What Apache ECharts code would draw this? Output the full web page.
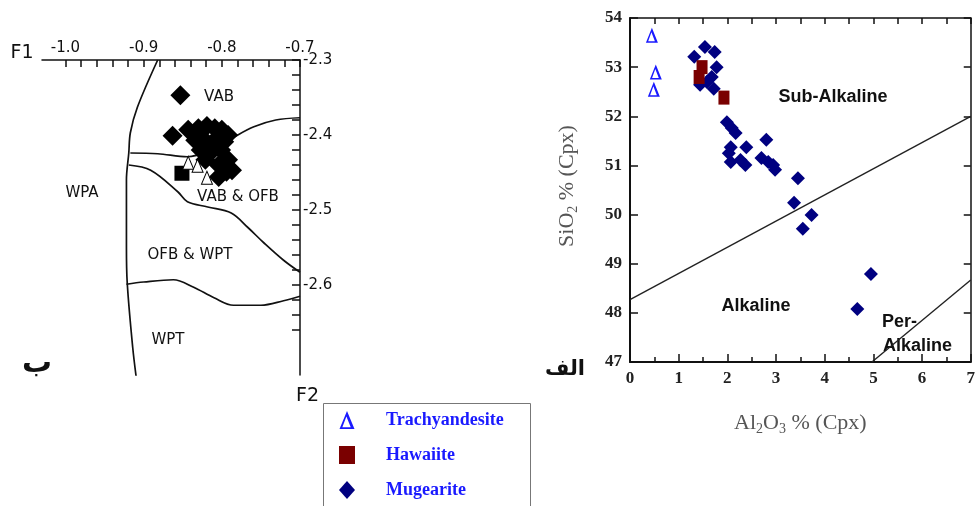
<!DOCTYPE html>
<html>
<head>
<meta charset="utf-8">
<script src="https://cdn.jsdelivr.net/npm/echarts@6/dist/echarts.min.js"></script>
<style>
  html, body { margin: 0; padding: 0; background: #fff; }
  #chart { width: 978px; height: 506px; }
</style>
</head>
<body>
<div id="chart"></div>
<script>
// ---------- left diagram : F1 / F2 discriminant ----------
const f1Labels = [-1.0, -0.9, -0.8, -0.7];
const f1Ticks = [-1.0, -0.98, -0.96, -0.94, -0.92, -0.9, -0.88, -0.86, -0.84, -0.82,
                 -0.8, -0.78, -0.76, -0.74, -0.72, -0.7];
const f2Labels = [-2.3, -2.4, -2.5, -2.6];
const f2Ticks = [-2.3, -2.32, -2.34, -2.36, -2.38, -2.4, -2.42, -2.44, -2.46, -2.48,
                 -2.5, -2.52, -2.54, -2.56, -2.58, -2.6, -2.62, -2.64, -2.66];

const leftDiamonds = [
  [-0.853, -2.347], [-0.863, -2.401], [-0.843, -2.393], [-0.830, -2.391], [-0.819, -2.388],
  [-0.809, -2.391], [-0.800, -2.393], [-0.792, -2.400], [-0.834, -2.407], [-0.822, -2.407],
  [-0.809, -2.407], [-0.797, -2.409], [-0.827, -2.420], [-0.814, -2.423], [-0.801, -2.420],
  [-0.792, -2.433], [-0.787, -2.447], [-0.804, -2.440], [-0.821, -2.433], [-0.804, -2.456],
  [-0.794, -2.449]
];
const leftSquares = [[-0.851, -2.451]];
const leftTriangles = [[-0.843, -2.437], [-0.831, -2.441], [-0.819, -2.457]];

// field boundaries
const edgeWPA = [[-0.882, -2.3], [-0.908, -2.363], [-0.917, -2.397], [-0.919, -2.424],
                 [-0.922, -2.46], [-0.922, -2.549], [-0.921, -2.597], [-0.914, -2.683], [-0.909, -2.727]];
const edgeVAB = [[-0.917, -2.424], [-0.882, -2.425], [-0.844, -2.429], [-0.814, -2.42],
                 [-0.785, -2.403], [-0.759, -2.389], [-0.731, -2.38], [-0.7, -2.377]];
const edgeOFB = [[-0.919, -2.44], [-0.891, -2.447], [-0.856, -2.476], [-0.844, -2.489],
                 [-0.818, -2.496], [-0.788, -2.504], [-0.767, -2.523], [-0.746, -2.544],
                 [-0.721, -2.567], [-0.7, -2.583]];
const edgeWPT = [[-0.922, -2.599], [-0.9, -2.596], [-0.862, -2.593], [-0.836, -2.603],
                 [-0.81, -2.617], [-0.785, -2.627], [-0.75, -2.627], [-0.721, -2.621], [-0.7, -2.615]];

// ---------- right diagram : Al2O3 vs SiO2 in Cpx ----------
const trachyandesite = [[0.45, 53.65], [0.53, 52.9], [0.49, 52.55]];
const hawaiite = [[1.48, 53.0], [1.42, 52.8], [1.93, 52.38]];
const mugearite = [
  [1.32, 53.21], [1.54, 53.41], [1.74, 53.31], [1.44, 52.64], [1.72, 52.56], [1.78, 53.0],
  [1.68, 52.8], [1.58, 52.7], [1.99, 51.88], [2.09, 51.76], [2.17, 51.66], [2.80, 51.52],
  [2.07, 51.37], [2.39, 51.37], [2.03, 51.25], [2.07, 51.07], [2.27, 51.11], [2.37, 51.01],
  [2.70, 51.15], [2.84, 51.07], [2.94, 51.01], [2.98, 50.91], [3.45, 50.74], [3.37, 50.24],
  [3.55, 49.71], [3.73, 49.99], [4.67, 48.08], [4.95, 48.79]
];
const alkalineLine = [[0, 48.27], [7, 52.0]];
const peralkalineLine = [[4.97, 47], [7, 48.67]];

const triPath = 'path://M5,0L10,12L0,12Z M4.6,3.6L1.9,10.8L7.5,10.8Z';
const sans = 'DejaVu Sans';
const serif = 'Liberation Serif';

const chart = echarts.init(document.getElementById('chart'));

function edge(data) {
  return {
    type: 'line', xAxisIndex: 0, yAxisIndex: 0, data: data, z: 1,
    smooth: 0.35, symbol: 'none', silent: true,
    lineStyle: { color: '#111', width: 1.7 }
  };
}

function txt(x, y, text, size, extra) {
  return {
    type: 'text', x: x, y: y, silent: true,
    style: Object.assign({
      text: text, fill: '#111', font: size + 'px "' + sans + '"',
      align: 'center', verticalAlign: 'middle'
    }, extra || {})
  };
}

const nameRich = {
  n: { fontFamily: serif, fontSize: 22, color: '#555', lineHeight: 26 },
  s: { fontFamily: serif, fontSize: 14, color: '#555', lineHeight: 14, verticalAlign: 'bottom' }
};

chart.setOption({
  animation: false,
  grid: [
    { left: 42, top: 60, width: 258, height: 315 },
    { left: 630, top: 18, width: 345, height: 344 }
  ],
  xAxis: [
    {
      gridIndex: 0, type: 'value', position: 'top', min: -1.03, max: -0.7,
      axisLine: { onZero: false, lineStyle: { color: '#111', width: 1.5 } },
      axisTick: { inside: true, length: 7, customValues: f1Ticks, lineStyle: { color: '#111', width: 1.5 } },
      axisLabel: { customValues: f1Labels, margin: 4, fontFamily: sans, fontSize: 15, color: '#111',
                   formatter: v => v.toFixed(1) },
      splitLine: { show: false }
    },
    {
      gridIndex: 1, type: 'value', position: 'bottom', min: 0, max: 7, interval: 1,
      name: '{n|Al}{s|2}{n|O}{s|3}{n| % (Cpx)}', nameLocation: 'middle', nameGap: 48,
      nameTextStyle: { rich: nameRich },
      axisLine: { onZero: false, lineStyle: { color: '#111', width: 2 } },
      axisTick: { inside: true, length: 8, lineStyle: { color: '#111', width: 1.5 } },
      minorTick: { show: true, splitNumber: 2, length: 5, lineStyle: { color: '#111', width: 1.5 } },
      axisLabel: { margin: 8, fontFamily: serif, fontWeight: 'bold', fontSize: 17, color: '#222' },
      splitLine: { show: false }, minorSplitLine: { show: false }
    },
    {
      gridIndex: 1, type: 'value', position: 'top', min: 0, max: 7, interval: 0.5,
      axisLine: { onZero: false, lineStyle: { color: '#111', width: 1.5 } },
      axisTick: { inside: true, length: 6, lineStyle: { color: '#111', width: 1.5 } },
      axisLabel: { show: false }, splitLine: { show: false }
    }
  ],
  yAxis: [
    {
      gridIndex: 0, type: 'value', position: 'right', min: -2.72, max: -2.3,
      name: 'F2', nameLocation: 'start', nameGap: 12,
      nameTextStyle: { fontFamily: sans, fontSize: 19, color: '#111', align: 'left', padding: [0, 0, 0, -4] },
      axisLine: { onZero: false, lineStyle: { color: '#111', width: 1.5 } },
      axisTick: { inside: true, length: 8, customValues: f2Ticks, lineStyle: { color: '#111', width: 1.5 } },
      axisLabel: { customValues: f2Labels, margin: 3, fontFamily: sans, fontSize: 15, color: '#111',
                   formatter: v => v.toFixed(1) },
      splitLine: { show: false }
    },
    {
      gridIndex: 1, type: 'value', position: 'left', min: 47, max: 54, interval: 1,
      name: '{n|SiO}{s|2}{n| % (Cpx)}', nameLocation: 'middle', nameGap: 50, nameRotate: 90,
      nameTextStyle: { rich: nameRich, padding: [0, 0, 0, 8] },
      axisLine: { onZero: false, lineStyle: { color: '#111', width: 2 } },
      axisTick: { inside: true, length: 8, lineStyle: { color: '#111', width: 1.5 } },
      axisLabel: { margin: 8, fontFamily: serif, fontWeight: 'bold', fontSize: 17, color: '#222' },
      splitLine: { show: false }
    },
    {
      gridIndex: 1, type: 'value', position: 'right', min: 47, max: 54, interval: 1,
      axisLine: { onZero: false, lineStyle: { color: '#111', width: 1.5 } },
      axisTick: { inside: true, length: 7, lineStyle: { color: '#111', width: 1.5 } },
      axisLabel: { show: false }, splitLine: { show: false }
    }
  ],
  legend: {
    orient: 'vertical', left: 334, top: 406, height: 100, selectedMode: false,
    itemWidth: 16, itemHeight: 18, itemGap: 17,
    textStyle: { fontFamily: serif, fontWeight: 'bold', fontSize: 18, color: '#1a1aff', padding: [0, 0, 0, 26] },
    data: [
      { name: 'Trachyandesite', icon: triPath },
      { name: 'Hawaiite', icon: 'rect' },
      { name: 'Mugearite', icon: 'diamond' }
    ]
  },
  graphic: [
    { type: 'rect', silent: true, shape: { x: 323.5, y: 403.5, width: 207, height: 120 },
      style: { fill: 'none', stroke: '#777', lineWidth: 1 } },
    txt(22, 53, 'F1', 19),
    txt(219, 97, 'VAB', 15),
    txt(238, 197, 'VAB & OFB', 15),
    txt(82, 193, 'WPA', 15),
    txt(190, 255, 'OFB & WPT', 15),
    txt(168, 340, 'WPT', 15),
    txt(37, 364, 'ب', 30, { font: 'bold 30px "' + sans + '"' }),
    txt(833, 97, 'Sub-Alkaline', 18, { font: 'bold 18px "Liberation Sans"' }),
    txt(756, 306, 'Alkaline', 18, { font: 'bold 18px "Liberation Sans"' }),
    txt(882, 322, 'Per-', 18, { font: 'bold 18px "Liberation Sans"', align: 'left' }),
    txt(883, 346, 'Alkaline', 18, { font: 'bold 18px "Liberation Sans"', align: 'left' }),
    txt(565, 370, 'الف', 21, { font: 'bold 21px "' + sans + '"' })
  ],
  series: [
    edge(edgeWPA), edge(edgeVAB), edge(edgeOFB), edge(edgeWPT),
    { name: 'left-diamond', type: 'scatter', xAxisIndex: 0, yAxisIndex: 0, data: leftDiamonds, z: 3,
      symbol: 'diamond', symbolSize: 20, itemStyle: { color: '#000', opacity: 1 } },
    { name: 'left-square', type: 'scatter', xAxisIndex: 0, yAxisIndex: 0, data: leftSquares, z: 4,
      symbol: 'rect', symbolSize: 15, itemStyle: { color: '#000', opacity: 1 } },
    { name: 'left-triangle', type: 'scatter', xAxisIndex: 0, yAxisIndex: 0, data: leftTriangles, z: 5,
      symbol: 'triangle', symbolSize: [11, 13],
      itemStyle: { color: '#fff', borderColor: '#000', borderWidth: 1, opacity: 1 } },

    { type: 'line', xAxisIndex: 1, yAxisIndex: 1, data: alkalineLine, symbol: 'none', silent: true, z: 1,
      lineStyle: { color: '#222', width: 1.4 } },
    { type: 'line', xAxisIndex: 1, yAxisIndex: 1, data: peralkalineLine, symbol: 'none', silent: true, z: 1,
      lineStyle: { color: '#222', width: 1.4 } },
    { name: 'Trachyandesite', type: 'scatter', xAxisIndex: 1, yAxisIndex: 1, data: trachyandesite, z: 3,
      symbol: triPath, symbolSize: [12, 15], itemStyle: { color: '#1a1aff', opacity: 1 } },
    { name: 'Mugearite', type: 'scatter', xAxisIndex: 1, yAxisIndex: 1, data: mugearite, z: 3,
      symbol: 'diamond', symbolSize: 14, itemStyle: { color: '#000080', opacity: 1 } },
    { name: 'Hawaiite', type: 'scatter', xAxisIndex: 1, yAxisIndex: 1, data: hawaiite, z: 4,
      symbol: 'rect', symbolSize: [11, 14], itemStyle: { color: '#7a0000', opacity: 1 } }
  ]
});
</script>
</body>
</html>
